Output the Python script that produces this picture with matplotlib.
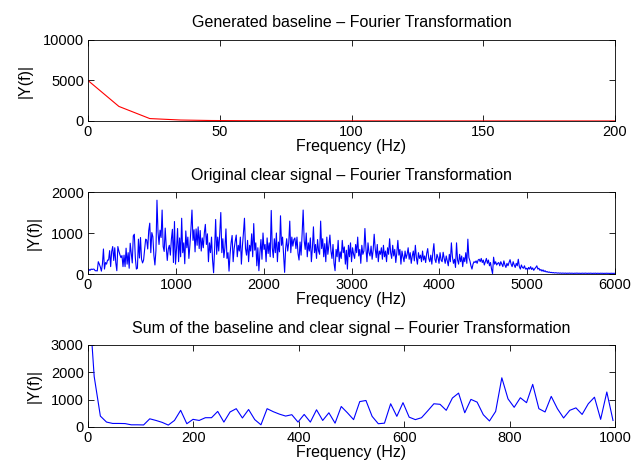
import numpy as np
import matplotlib
matplotlib.use("Agg")
import matplotlib.pyplot as plt

plt.rcParams["font.family"] = ["Liberation Sans", "DejaVu Sans"]
plt.rcParams["font.size"] = 10.5

# frequency step of the FFT bins (Hz)
df = 11.72

# generated baseline spectrum, 0-200 Hz
baseline_vals = [5000, 1800, 300, 120, 60, 40, 30, 25, 20, 18, 15, 14, 12, 11,
                 10, 9, 8, 8, 7]

# original clear signal spectrum, 0-6000 Hz
clear_vals = [
    40, 110, 90, 120, 110, 120, 115, 80, 80, 75, 300, 240, 170, 70, 240, 610,
    120, 280, 240, 340, 340, 570, 180, 550, 670, 330, 640, 270, 80, 670,
    560, 470, 400, 450, 180, 460, 180, 630, 240, 520, 140, 750, 520, 270,
    930, 970, 390, 120, 140, 850, 390, 890, 360, 270, 340, 590, 850, 830,
    610, 1060, 1240, 520, 1010, 910, 450, 220, 570, 1800, 1030, 720, 1070,
    890, 1560, 670, 550, 1120, 670, 330, 610, 700, 460, 850, 1090, 280,
    1280, 240,
    620, 1110, 300, 880, 420, 1360, 520, 760, 250, 1050, 640, 900, 380, 700,
    1100, 1560, 820, 1080, 540, 1100,
    700, 1150, 620, 1060, 560, 880, 640, 1000, 1210, 720, 980, 300, 760, 520,
    900, 340, 30, 620, 1330, 480,
    900, 560, 1000, 1500, 520, 860, 400, 640, 1100, 380, 520, 70, 480, 760,
    940, 300, 620, 800, 950, 420,
    700, 560, 900, 240, 680, 1000, 1360, 620, 460, 820, 300, 700, 560, 980,
    420, 1230, 580, 760, 200, 640,
    80, 520, 840, 360, 1000, 600, 720, 300, 880, 500, 760, 420, 1550, 640,
    400, 860, 520, 1000, 300, 780,
    540, 1420, 700, 900, 480, 40, 620, 860, 560, 760, 1290, 520, 900, 680,
    840, 880, 620, 900, 500, 340,
    780, 460, 980, 1560, 820, 600, 1000, 420, 760, 560, 880, 300, 640, 1150,
    520, 720, 380, 840, 560, 480,
    1290, 620, 860, 420, 740, 300, 900, 480, 700, 950, 560, 380, 720, 260,
    80, 600, 420, 820, 300, 540,
    380, 820, 520, 660, 240, 580, 120, 700, 420, 760, 300, 640, 480, 380,
    720, 520, 900, 440, 600, 260,
    700, 480, 560, 1110, 620, 300, 760, 520, 440, 680, 360, 580, 970, 620,
    400, 720, 300, 560, 480, 640,
    360, 700, 420, 560, 300, 640, 480, 860, 520, 380, 700, 440, 600, 280,
    520, 820, 460, 600, 240, 560,
    420, 300, 560, 380, 480, 640, 360, 520, 260, 440, 560, 320, 700, 400,
    240, 520, 380, 460, 300, 560,
    340, 440, 280, 500, 620, 380, 300, 460, 240, 520, 740, 360, 280, 480,
    400, 260, 520, 340, 300, 530,
    380, 260, 440, 320, 200, 480, 300, 760, 420, 260, 360, 160, 760, 340,
    240, 480, 300, 440, 180, 400,
    300, 520, 260, 850, 400, 320, 200, 120, 240, 300, 280, 320, 260, 340,
    360, 300, 380, 280, 340, 220,
    300, 380, 260, 340, 200, 280, 120, 10, 410, 240, 300, 220, 260, 280,
    200, 300, 240, 180, 320, 220,
    160, 260, 200, 280, 350, 240, 180, 300, 220, 160, 260, 200, 360, 180,
    120, 220, 160, 140, 200, 120,
    140, 100, 160, 120, 180, 110, 150, 90, 130, 160, 200, 120, 140, 90, 110,
    70, 100, 60, 80, 50,
    60, 40, 50, 35, 40, 30, 35, 25, 30, 28, 22, 26, 20, 24, 18, 22, 20, 18,
    22, 16,
    20, 18, 22, 16, 20, 18, 15, 20, 17, 22, 16, 19, 18, 15, 20, 17, 16, 21,
    18, 15, 19, 16, 20, 17, 15, 18, 16, 20, 14, 18, 17, 15, 19, 16, 18, 14,
    17, 16, 19, 15, 17, 14, 18, 16, 15, 17, 16,
]

# sum of baseline and clear signal spectrum, 0-1000 Hz
sum_vals = [
    5200, 1850, 400, 180, 130, 130, 125, 80, 80, 75, 300, 240, 170, 70, 240,
    610, 120, 280, 240, 340, 340, 570, 180, 550, 670, 330, 640, 270, 80,
    670, 560, 470, 400, 450, 180, 460, 180, 630, 240, 520, 140, 750, 520,
    270, 930, 970, 390, 120, 140, 850, 390, 890, 360, 270, 340, 590, 850,
    830, 610, 1060, 1240, 520, 1010, 910, 450, 220, 570, 1800, 1030, 720,
    1070, 890, 1560, 670, 550, 1120, 670, 330, 610, 700, 460, 850, 1090,
    280, 1280, 240,
]

titles = ["Generated baseline \u2013 Fourier Transformation",
          "Original clear signal \u2013 Fourier Transformation",
          "Sum of the baseline and clear signal \u2013 Fourier Transformation"]

fig = plt.figure(figsize=(6.33, 4.68), dpi=100)
W, H = 633, 468


def make_ax(top, bottom):
    return fig.add_axes([88 / W, 1 - bottom / H, (615 - 88) / W, (bottom - top) / H])


axes = [make_ax(40, 121), make_ax(192, 274), make_ax(345, 427)]
series = [(baseline_vals, "red"), (clear_vals, "blue"), (sum_vals, "blue")]
xlims = [(0, 200), (0, 6000), (0, 1000)]
ylims = [(0, 10000), (0, 2000), (0, 3000)]
xticks = [np.arange(0, 201, 50), np.arange(0, 6001, 1000), np.arange(0, 1001, 200)]
yticks = [[0, 5000, 10000], [0, 1000, 2000], [0, 1000, 2000, 3000]]

for ax, (vals, color), title, xl, yl, xt, yt in zip(axes, series, titles, xlims,
                                                   ylims, xticks, yticks):
    freq = np.arange(len(vals)) * df
    ax.plot(freq, vals, color=color, linewidth=0.8)
    ax.set_xlim(*xl)
    ax.set_ylim(*yl)
    ax.set_xticks(xt)
    ax.set_yticks(yt)
    ax.tick_params(direction="in", top=True, right=True, length=4, width=0.6,
                   pad=3)
    for sp in ax.spines.values():
        sp.set_linewidth(0.6)
    ax.set_title(title, fontsize=11.5, pad=9)
    ax.set_xlabel("Frequency (Hz)", fontsize=11.5, labelpad=0)
    ax.set_ylabel("|Y(f)|", fontsize=11.5, labelpad=7)

fig.savefig("out.png", dpi=100)
